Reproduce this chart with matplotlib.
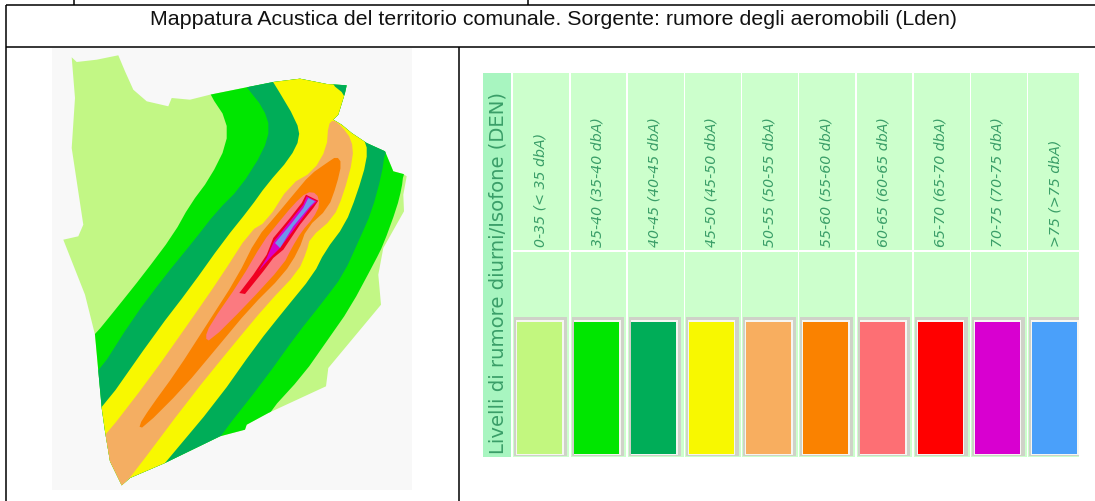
import matplotlib
matplotlib.use("Agg")
import matplotlib.pyplot as plt
from matplotlib.patches import Polygon, Rectangle

TITLE = "Mappatura Acustica del territorio comunale. Sorgente: rumore degli aeromobili (Lden)"
AXIS_LABEL = "Livelli di rumore diurni/Isofone (DEN)"
LEVELS = ["0-35 (< 35 dbA)", "35-40 (35-40 dbA)", "40-45 (40-45 dbA)", "45-50 (45-50 dbA)",
          "50-55 (50-55 dbA)", "55-60 (55-60 dbA)", "60-65 (60-65 dbA)", "65-70 (65-70 dbA)",
          "70-75 (70-75 dbA)", ">75 (>75 dbA)"]
COLORS = ["#c2f77f", "#00e600", "#00ad58", "#f8f800", "#f8ae5f",
          "#fa8200", "#fd6f74", "#ff0000", "#d800d0", "#4aa0fa"]
MAP_COLORS = ["#c2f785", "#00e600", "#00ad58", "#f8f800", "#f4ae62",
              "#fa8200", "#fb7a80", "#f00020", "#d800c8", "#6f94ec"]

OUTLINE = [(71.7, 57.3), (76.7, 62), (96.7, 59.7), (118.3, 55.3), (125, 71.3), (133.3, 89.7), (146.7, 101.3),
           (168.3, 106.3), (171.7, 98), (190, 99.7), (210, 94.7), (246.7, 87.3), (273.3, 82), (300, 78.7),
           (326.7, 84), (346.7, 85.3), (345, 93), (338.3, 114.7), (333.3, 119.7), (341.7, 124.7), (351.7, 133),
           (366.7, 143), (385, 151.3), (393.3, 171.3), (403.3, 174), (406.7, 176.3), (403.3, 194.7), (404, 211.3),
           (383.3, 248), (378.3, 274.7), (381, 304.7), (328.3, 368), (326, 386.3), (268.3, 413), (246.7, 424.7),
           (245, 429.7), (220, 436.3), (165, 463), (130, 478), (121.7, 485.3), (110, 461.3), (105, 431.3),
           (101.7, 408), (95, 334.7), (85, 294.7), (63.3, 239.7), (78.3, 236.3), (83.3, 224.7), (71.7, 148),
           (75, 98)]
BAND_GREEN = [(200, 70), (420, 70), (410, 160), (403.3, 174.7), (401.7, 188), (396.7, 208), (383.3, 244.7),
              (375, 261.3), (350, 308), (326.7, 341.3), (303.3, 374.7), (268.3, 413), (255, 440), (240, 520),
              (60, 520), (60, 370), (95, 334.7), (116.7, 308), (143.3, 274.7), (173.3, 234.7), (190, 204.7),
              (210, 178), (226.7, 144.7), (226.7, 119.7), (210, 94.7)]
BAND_DARK = [(235, 70), (420, 70), (395, 140), (385, 151.3), (381.7, 174.7), (371.7, 211.3), (360, 238),
             (343.3, 274.7), (323.3, 301.3), (296.7, 334.7), (263.3, 381.3), (220, 436.3), (205, 460), (200, 520),
             (60, 520), (60, 410), (98.3, 373), (133.3, 318), (163.3, 278), (193.3, 241.3), (216.7, 211.3),
             (240, 188), (263.3, 151.3), (270, 128), (263.3, 108), (246.7, 87.3)]
BAND_YELLOW = [(262, 65), (325, 65), (331.7, 84), (345, 94.7), (366.7, 143), (366.7, 161.3), (356.7, 194.7),
               (345, 224.7), (325, 251.3), (313.3, 274.7), (283.3, 311.3), (256.7, 344.7), (216.7, 401.3), (165, 463),
               (155, 475), (150, 520), (60, 520), (60, 450), (101.7, 409.7), (156.7, 331.3), (190, 288),
               (223.3, 241.3), (250, 208), (266.7, 184.7), (290, 158), (300, 138), (296.7, 121.3), (273.3, 82)]
BAND_LIGHT_ORANGE = [(333.3, 119.7), (341.7, 126.3), (351.7, 139.7), (353.3, 158), (343.3, 194.7), (333.3, 218),
                     (310, 238), (306.7, 251.3), (298.3, 271.3), (266.7, 304.7), (233.3, 344.7), (190, 398), (130, 478),
                     (115, 495), (110, 520), (60, 520), (60, 485), (105, 436.3), (150, 378), (190, 321.3), (220, 278),
                     (250, 231.3), (266.7, 221.3), (290, 184.7), (313.3, 171.3), (326.7, 148), (328.3, 124.7)]
BAND_ORANGE = [(336.7, 156.3), (341.7, 163), (336.7, 184.7), (328.3, 208), (306.7, 228), (298.3, 251.3),
               (283.3, 274.7), (250, 308), (216.7, 348), (183.3, 388), (143.3, 428), (138.3, 426.3), (150, 408),
               (176.7, 371.3), (206.7, 324.7), (236.7, 278), (256.7, 238), (276.7, 214.7), (293.3, 194.7),
               (310, 174.7), (326.7, 163)]
BAND_PINK = [(306.7, 192), (316.7, 193), (320, 204.7), (313.3, 218), (301.7, 231.3), (291.7, 248), (283.3, 264.7),
             (246.7, 304.7), (210, 341.3), (205, 338), (210, 324.7), (240, 281.3), (263.3, 241.3), (276.7, 224.7),
             (293.3, 204.7)]
BAND_RED = [(306, 194.7), (318.3, 200.7), (313.3, 208), (300, 224.7), (283.3, 249.7), (273.3, 258), (263.3, 271.3),
            (245, 294), (239.3, 293), (253.3, 274.7), (266.7, 254.7), (273.3, 238), (290, 218), (301.7, 203)]
BAND_MAGENTA = [(306.7, 196.3), (316.7, 201.3), (310, 208), (280, 248), (270, 258), (258.3, 271.3), (266.7, 258),
                (274, 241.3), (290, 221.3), (303.3, 204.7)]
BAND_BLUE = [(308.3, 198), (315, 201.3), (310, 206.3), (293.3, 226.3), (280, 248), (275, 243), (291.7, 223),
             (303.3, 208)]
BANDS = [BAND_GREEN, BAND_DARK, BAND_YELLOW, BAND_LIGHT_ORANGE, BAND_ORANGE,
         BAND_PINK, BAND_RED, BAND_MAGENTA, BAND_BLUE]
BAND_ROUNDING = [1, 1, 1, 1, 1, 1, 0, 0, 0]


def rounded(points, passes):
    """Corner-cut a closed polygon so the contour edges read as smooth."""
    for _ in range(passes):
        out = []
        for (x0, y0), (x1, y1) in zip(points, points[1:] + points[:1]):
            out.append((0.75 * x0 + 0.25 * x1, 0.75 * y0 + 0.25 * y1))
            out.append((0.25 * x0 + 0.75 * x1, 0.25 * y0 + 0.75 * y1))
        points = out
    return points


fig = plt.figure(figsize=(10.95, 5.01), dpi=100)
ax = fig.add_axes([0, 0, 1, 1])
ax.set_xlim(0, 1095)
ax.set_ylim(501, 0)
ax.axis("off")

# table rules
for xs, ys in [((6, 1095), (5, 5)), ((6, 1095), (46.5, 46.5)), ((6, 6), (5, 501)), ((459, 459), (46.5, 501)),
               ((74, 74), (0, 5)), ((528, 528), (0, 5))]:
    ax.plot(xs, ys, color="black", lw=1.1, solid_capstyle="butt", zorder=5)
ax.text(553.5, 19, TITLE, family="Liberation Sans", fontsize=15.4, ha="center", va="center", color="#111111")

# map
ax.add_patch(Rectangle((52, 48), 360, 441.5, fc="#f8f8f8", ec="none"))
outline = Polygon(OUTLINE, closed=True, fc=MAP_COLORS[0], ec="none", zorder=1)
ax.add_patch(outline)
for i, (band, passes) in enumerate(zip(BANDS, BAND_ROUNDING)):
    p = Polygon(rounded(band, passes), closed=True, fc=MAP_COLORS[i + 1], ec="none", zorder=2 + i * 0.01)
    ax.add_patch(p)
    p.set_clip_path(outline)

# legend
CELL0, CELLW, TOP, MID, BOTTOM, RIGHT = 513.3, 57.2, 73, 250.7, 456.7, 1079
TEXT_GREEN = "#3a9e68"
ax.add_patch(Rectangle((482.7, TOP), 28.5, BOTTOM - TOP, fc="#a8f5c0", ec="none"))
ax.text(498, 273.5, AXIS_LABEL, rotation=90, ha="center", va="center", fontsize=14.15,
        family="DejaVu Sans", color=TEXT_GREEN)
for i, (label, col) in enumerate(zip(LEVELS, COLORS)):
    x = CELL0 + i * CELLW
    w = min(CELLW - 1.3, RIGHT - x)
    ax.add_patch(Rectangle((x, TOP), w, MID - TOP - 0.7, fc="#ccffcc", ec="none"))
    ax.add_patch(Rectangle((x, MID + 0.9), w, BOTTOM - MID - 0.9, fc="#ccffcc", ec="none"))
    ax.add_patch(Rectangle((x + 1, 317), min(52.8, RIGHT - x - 1), 139, fc="#cfd2c8", ec="none"))
    ax.add_patch(Rectangle((x + 3, 320), min(47.5, RIGHT - x - 3), 134.5, fc="#f6f6f2", ec="none"))
    ax.add_patch(Rectangle((x + 3.8, 322), 45, 132, fc=col, ec="none"))
    ax.text(x + 27, 247, label, rotation=90, ha="center", va="bottom", fontsize=10.2,
            family="DejaVu Sans", style="italic", color=TEXT_GREEN)

fig.savefig("out.png", dpi=100)
